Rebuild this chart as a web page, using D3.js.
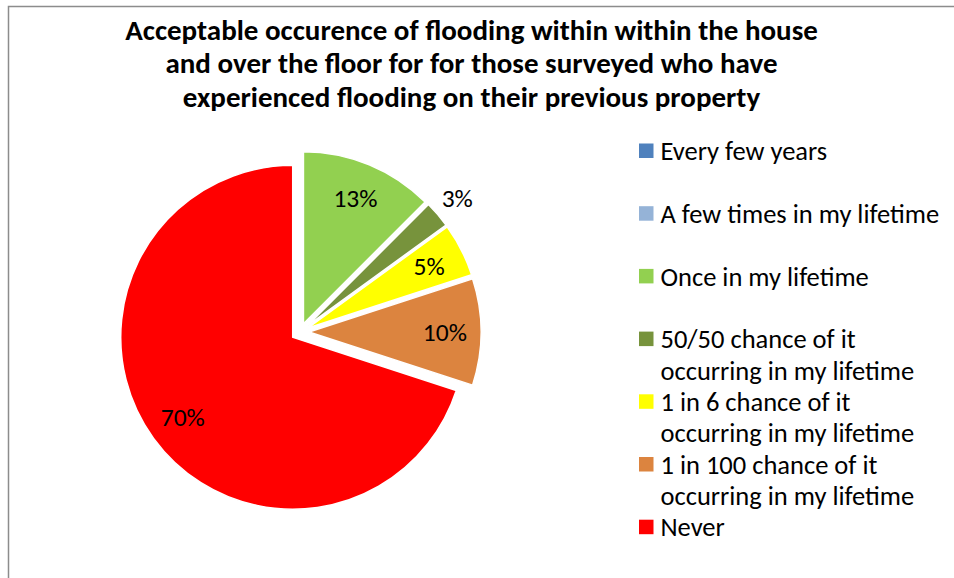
<!DOCTYPE html>
<html>
<head>
<meta charset="utf-8">
<script src="https://cdn.jsdelivr.net/npm/d3@7"></script>
<style>
  body { margin: 0; background: #fff; }
  svg text { font-family: Calibri, Carlito, Lato, sans-serif; fill: #000; }
</style>
</head>
<body>
<svg id="chart" width="954" height="578"></svg>
<script>
// responses out of 40 people
var categories = ["Every few years", "A few times in my lifetime", "Once in my lifetime",
    "50/50 chance of it occurring in my lifetime", "1 in 6 chance of it occurring in my lifetime",
    "1 in 100 chance of it occurring in my lifetime", "Never"];
var counts = [0, 0, 5, 1, 2, 4, 28];
var colours = ["#4F81BD", "#95B3D7", "#92D050", "#77933C", "#FFFF00", "#DC843F", "#FF0000"];
var titleLines = ["Acceptable occurence of flooding within within the house",
    "and over the floor for for those surveyed who have",
    "experienced flooding on their previous property"];

var svg = d3.select("#chart");

// chart area border (runs off the right and bottom)
svg.append("rect")
    .attr("x", 8.5).attr("y", 6.5)
    .attr("width", 1000).attr("height", 700)
    .attr("fill", "none")
    .attr("stroke", "#8c8c8c")
    .attr("stroke-width", 1.5);

svg.append("g").selectAll("text")
    .data(titleLines)
    .enter().append("text")
    .attr("x", 471.5)
    .attr("y", function(d, i) { return 39.5 + i * 33.7; })
    .attr("text-anchor", "middle")
    .style("font-weight", "bold")
    .style("font-size", "29px")
    .text(function(d) { return d; });

var cx = 300, cy = 332, radius = 172, explode = 9;
var total = d3.sum(counts);

var pie = d3.pie().sort(null).value(function(d) { return d; });
var arc = d3.arc().innerRadius(0).outerRadius(radius);
var labelArc = d3.arc().innerRadius(radius * 0.79).outerRadius(radius * 0.79);
var outerLabelArc = d3.arc().innerRadius(radius * 1.15).outerRadius(radius * 1.15);

var slices = pie(counts).filter(function(d) { return d.value > 0; });

function offset(d) {
    var mid = (d.startAngle + d.endAngle) / 2;
    return [cx + explode * Math.sin(mid), cy - explode * Math.cos(mid)];
}

var pieG = svg.append("g");
var sliceG = pieG.selectAll(".slice")
    .data(slices)
    .enter().append("g")
    .attr("class", "slice")
    .attr("transform", function(d) { return "translate(" + offset(d) + ")"; });

sliceG.append("path")
    .attr("d", arc)
    .attr("fill", function(d) { return colours[d.index]; })
    .attr("stroke", "#fff")
    .attr("stroke-width", 1.5);

sliceG.append("text")
    .attr("transform", function(d) {
        var share = d.value / total;
        var c = share < 0.04 ? outerLabelArc.centroid(d) : labelArc.centroid(d);
        return "translate(" + c + ")";
    })
    .attr("text-anchor", "middle")
    .attr("dy", "0.35em")
    .style("font-size", "25.5px")
    .text(function(d) { return Math.round(d.value / total * 100) + "%"; });

// legend
var legend = svg.append("g").attr("transform", "translate(639,0)");
var item = legend.selectAll(".item")
    .data(categories)
    .enter().append("g")
    .attr("class", "item")
    .attr("transform", function(d, i) { return "translate(0," + (150.7 + i * 62.7) + ")"; });

item.append("rect")
    .attr("x", 0).attr("y", -7.2)
    .attr("width", 14.5).attr("height", 14.5)
    .attr("fill", function(d, i) { return colours[i]; });

item.append("text")
    .attr("x", 21.5)
    .style("font-size", "26.5px")
    .selectAll("tspan")
    .data(function(d) { return d.replace(" of it ", " of it\n").split("\n"); })
    .enter().append("tspan")
    .attr("x", 21.5)
    .attr("y", function(d, i) { return i * 31.3; })
    .attr("dy", "0.36em")
    .text(function(d) { return d; });
</script>
</body>
</html>
